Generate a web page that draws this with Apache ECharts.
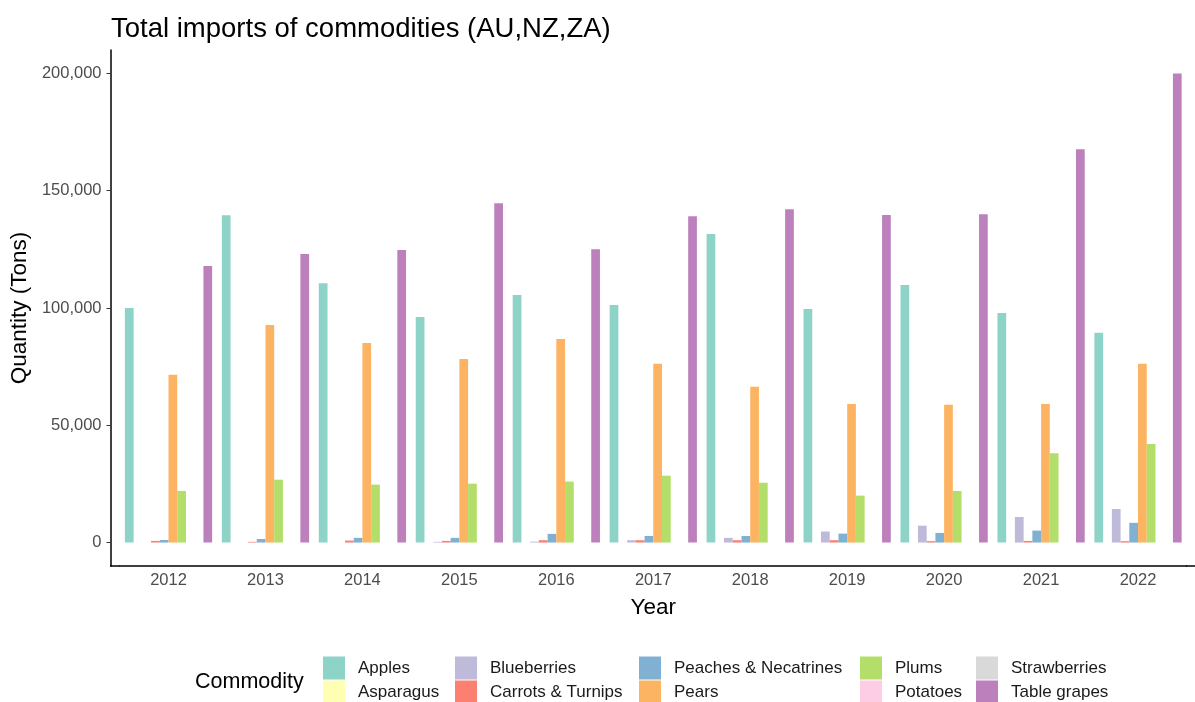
<!DOCTYPE html>
<html>
<head>
<meta charset="utf-8">
<script src="https://cdn.jsdelivr.net/npm/echarts@6/dist/echarts.min.js"></script>
<style>
  html, body { margin: 0; padding: 0; background: #fff; }
  #main { width: 1195px; height: 702px; }
</style>
</head>
<body>
<div id="main"></div>
<script>
var years = ['2012', '2013', '2014', '2015', '2016', '2017', '2018', '2019', '2020', '2021', '2022'];

var apples      = [100000, 139500, 110500, 96200, 105500, 101300, 131500, 99600, 109800, 97900, 89400];
var asparagus   = [0, 0, 0, 0, 0, 0, 0, 0, 0, 0, 0];
var blueberries = [0, 0, 0, 300, 400, 1000, 2000, 4700, 7200, 10900, 14300];
var carrots     = [700, 300, 850, 700, 1000, 1000, 1000, 1000, 600, 700, 600];
var peaches     = [1100, 1500, 2000, 2000, 3700, 2800, 2800, 3800, 4100, 5100, 8400];
var pears       = [71500, 92800, 85100, 78300, 86800, 76200, 66400, 59100, 58700, 59100, 76200];
var plums       = [22000, 26800, 24700, 25100, 26000, 28500, 25500, 20000, 22000, 38100, 42000];
var potatoes    = [0, 0, 0, 0, 0, 0, 0, 0, 0, 0, 0];
var strawberries = [0, 0, 0, 0, 0, 0, 0, 0, 0, 0, 0];
var tableGrapes = [117900, 123000, 124700, 144700, 125100, 139100, 142100, 139600, 140000, 167700, 200000];

var yTicks = [0, 50000, 100000, 150000, 200000];

// Set3 palette
var commodities = [
  { name: 'Apples', data: apples, color: '#8DD3C7' },
  { name: 'Asparagus', data: asparagus, color: '#FFFFB3' },
  { name: 'Blueberries', data: blueberries, color: '#BEBADA' },
  { name: 'Carrots & Turnips', data: carrots, color: '#FB8072' },
  { name: 'Peaches & Necatrines', data: peaches, color: '#80B1D3' },
  { name: 'Pears', data: pears, color: '#FDB462' },
  { name: 'Plums', data: plums, color: '#B3DE69' },
  { name: 'Potatoes', data: potatoes, color: '#FCCDE5' },
  { name: 'Strawberries', data: strawberries, color: '#D9D9D9' },
  { name: 'Table grapes', data: tableGrapes, color: '#BC80BD' }
];

var font = 'Liberation Sans, Arial, sans-serif';

var myChart = echarts.init(document.getElementById('main'));

// legend laid out in 5 columns of 2 (column-major like ggplot)
var legendLefts = [323, 455, 639, 860, 976];
var legends = legendLefts.map(function (left, i) {
  return {
    orient: 'vertical',
    left: left,
    top: 656.5,
    height: 60,
    itemWidth: 22,
    itemHeight: 23,
    itemGap: 1,
    icon: 'rect',
    selectedMode: false,
    padding: 0,
    textStyle: {
      fontFamily: font,
      fontSize: 17,
      color: '#1a1a1a',
      padding: [0, 0, 0, 8]
    },
    data: [commodities[i * 2].name, commodities[i * 2 + 1].name]
  };
});

var option = {
  animation: false,
  backgroundColor: '#fff',
  color: commodities.map(function (c) { return c.color; }),
  title: {
    text: 'Total imports of commodities (AU,NZ,ZA)',
    left: 106,
    top: 10,
    textStyle: {
      fontFamily: font,
      fontSize: 27.5,
      fontWeight: 'normal',
      color: '#000'
    }
  },
  legend: legends,
  graphic: [
    {
      type: 'text',
      left: 195,
      top: 671,
      style: {
        text: 'Commodity',
        font: '21.5px ' + font,
        fill: '#000'
      }
    },
    {
      // axis line runs past the category bands on both sides (ggplot expansion)
      type: 'line',
      shape: { x1: 110, y1: 566, x2: 120, y2: 566 },
      style: { stroke: '#000', lineWidth: 1.5 }
    },
    {
      type: 'line',
      shape: { x1: 1186, y1: 566, x2: 1195, y2: 566 },
      style: { stroke: '#000', lineWidth: 1.5 }
    }
  ],
  grid: {
    left: 119.5,
    width: 1067,
    top: 50,
    bottom: 136,
    containLabel: false
  },
  xAxis: {
    type: 'category',
    data: years,
    name: 'Year',
    nameLocation: 'middle',
    nameGap: 30,
    nameTextStyle: { fontFamily: font, fontSize: 22.5, color: '#000' },
    axisLine: { onZero: false, lineStyle: { color: '#000', width: 1.5 } },
    axisTick: { alignWithLabel: true, length: 4, lineStyle: { color: '#333' } },
    axisLabel: { fontFamily: font, fontSize: 16.5, color: '#4d4d4d', margin: 6 },
    splitLine: { show: false }
  },
  yAxis: {
    type: 'value',
    min: -10000,
    max: 210000,
    offset: 9.5,
    name: 'Quantity (Tons)',
    nameLocation: 'middle',
    nameGap: 73,
    nameTextStyle: { fontFamily: font, fontSize: 22.5, color: '#000' },
    axisLine: { show: true, lineStyle: { color: '#000', width: 1.5 } },
    axisTick: { show: true, length: 4, customValues: yTicks, lineStyle: { color: '#333' } },
    axisLabel: {
      fontFamily: font,
      fontSize: 16.5,
      color: '#4d4d4d',
      margin: 9,
      customValues: yTicks,
      formatter: function (v) { return v.toLocaleString('en-US'); }
    },
    splitLine: { show: false }
  },
  series: commodities.map(function (c) {
    return {
      name: c.name,
      type: 'bar',
      data: c.data,
      barGap: '0%',
      barCategoryGap: '10%',
      itemStyle: { color: c.color }
    };
  })
};

option && myChart.setOption(option);
</script>
</body>
</html>
